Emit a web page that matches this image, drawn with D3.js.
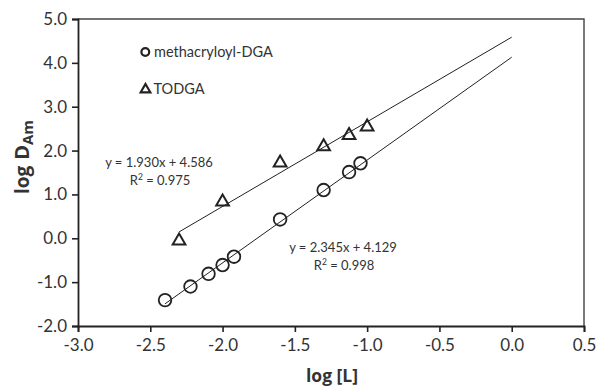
<!DOCTYPE html>
<html>
<head>
<meta charset="utf-8">
<script src="https://cdn.jsdelivr.net/npm/d3@7"></script>
<style>
  html, body { margin: 0; padding: 0; background: #fff; }
  svg { display: block; }
  text { font-family: Lato, "Open Sans", sans-serif; fill: #333; }
</style>
</head>
<body>
<svg id="chart" width="598" height="388"></svg>
<script>
// ---- data ----
const dgaX = [-2.398, -2.222, -2.097, -2.0, -1.921, -1.602, -1.301, -1.125, -1.046];
const dgaY = [-1.41, -1.10, -0.81, -0.61, -0.42, 0.43, 1.10, 1.51, 1.71];
const todgaX = [-2.301, -2.0, -1.602, -1.301, -1.125, -1.0];
const todgaY = [-0.06, 0.83, 1.72, 2.09, 2.35, 2.54];
const dgaFit = { slope: 2.345, intercept: 4.129, r2: "0.998" };
const todgaFit = { slope: 1.930, intercept: 4.586, r2: "0.975" };
const xTicks = [-3.0, -2.5, -2.0, -1.5, -1.0, -0.5, 0.0, 0.5];
const yTicks = [-2.0, -1.0, 0.0, 1.0, 2.0, 3.0, 4.0, 5.0];
const seriesNames = ["methacryloyl-DGA", "TODGA"];

const svg = d3.select("#chart");
const m = { left: 78, top: 19, right: 14, bottom: 62 };
const W = 598, H = 388;
const x = d3.scaleLinear().domain([-3, 0.5]).range([m.left, W - m.right]);
const y = d3.scaleLinear().domain([-2, 5]).range([H - m.bottom, m.top]);

// frame (top & right)
svg.append("path")
  .attr("d", `M${x(-3)},${y(5)}H${x(0.5)}V${y(-2)}`)
  .attr("fill", "none").attr("stroke", "#444").attr("stroke-width", 1.4);

const fmt = v => v.toFixed(1);
const xAxis = svg.append("g").attr("transform", `translate(0,${y(-2)})`)
  .call(d3.axisBottom(x).tickValues(xTicks).tickFormat(fmt).tickSize(6).tickPadding(5));
const yAxis = svg.append("g").attr("transform", `translate(${x(-3)},0)`)
  .call(d3.axisLeft(y).tickValues(yTicks).tickFormat(fmt).tickSize(6).tickPadding(5));
[xAxis, yAxis].forEach(g => {
  g.select(".domain").attr("stroke", "#222").attr("stroke-width", 1.8);
  g.selectAll(".tick line").attr("stroke", "#222").attr("stroke-width", 1.6);
  g.selectAll(".tick text").attr("fill", "#2a2a2a").style("font-size", "17px")
    .style("font-family", "Lato, sans-serif");
});
xAxis.selectAll(".tick text").attr("dy", "0.85em");

// axis titles
svg.append("text").attr("x", (x(-3) + x(0.5)) / 2 + 1).attr("y", 382)
  .attr("text-anchor", "middle").style("font-family", "'Open Sans', sans-serif")
  .style("font-size", "17.5px").style("font-weight", "bold")
  .text("log [L]");
const yt = svg.append("text").attr("transform", `translate(29,157) rotate(-90)`)
  .attr("text-anchor", "middle").style("font-family", "'Open Sans', sans-serif")
  .style("font-size", "19px").style("font-weight", "bold");
yt.append("tspan").text("log");
yt.append("tspan").attr("dx", "6").style("font-size", "20px").text("D");
yt.append("tspan").attr("dy", "4").style("font-size", "15px").text("Am");

// fit lines
function fitLine(fit, x0) {
  svg.append("line")
    .attr("x1", x(x0)).attr("y1", y(fit.slope * x0 + fit.intercept))
    .attr("x2", x(0)).attr("y2", y(fit.intercept))
    .attr("stroke", "#222").attr("stroke-width", 1);
}
fitLine(dgaFit, d3.min(dgaX));
fitLine(todgaFit, d3.min(todgaX));

// markers
const dga = dgaX.map((v, i) => [v, dgaY[i]]);
const tod = todgaX.map((v, i) => [v, todgaY[i]]);
svg.append("g").selectAll("circle").data(dga).join("circle")
  .attr("cx", d => x(d[0])).attr("cy", d => y(d[1])).attr("r", 6.3)
  .attr("fill", "none").attr("stroke", "#222").attr("stroke-width", 1.8);
const tri = d3.symbol().type(d3.symbolTriangle).size(70);
svg.append("g").selectAll("path").data(tod).join("path")
  .attr("transform", d => `translate(${x(d[0])},${y(d[1])})`)
  .attr("d", tri()).attr("fill", "none").attr("stroke", "#222").attr("stroke-width", 2);

// legend
svg.append("circle").attr("cx", 145.3).attr("cy", 52).attr("r", 3.9)
  .attr("fill", "none").attr("stroke", "#222").attr("stroke-width", 2.2);
svg.append("text").attr("x", 154).attr("y", 57).style("font-size", "14.5px").text(seriesNames[0]);
svg.append("path").attr("transform", "translate(145.5,89.5)")
  .attr("d", d3.symbol().type(d3.symbolTriangle).size(40)()).attr("fill", "none")
  .attr("stroke", "#222").attr("stroke-width", 2.2);
svg.append("text").attr("x", 153.5).attr("y", 94).style("font-size", "14.5px").text(seriesNames[1]);

// equations
function eq(fit, cx, by) {
  svg.append("text").attr("x", cx).attr("y", by).attr("text-anchor", "middle")
    .style("font-size", "13px")
    .text(`y = ${fit.slope.toFixed(3)}x + ${fit.intercept.toFixed(3)}`);
  const r = svg.append("text").attr("x", cx + 1).attr("y", by + 18.5).attr("text-anchor", "middle")
    .style("font-size", "13px");
  r.append("tspan").text("R");
  r.append("tspan").attr("dy", "-5").style("font-size", "8.5px").text("2");
  r.append("tspan").attr("dy", "5").text(` = ${fit.r2}`);
}
eq(todgaFit, 159, 166.5);
eq(dgaFit, 343, 251.5);
</script>
</body>
</html>
